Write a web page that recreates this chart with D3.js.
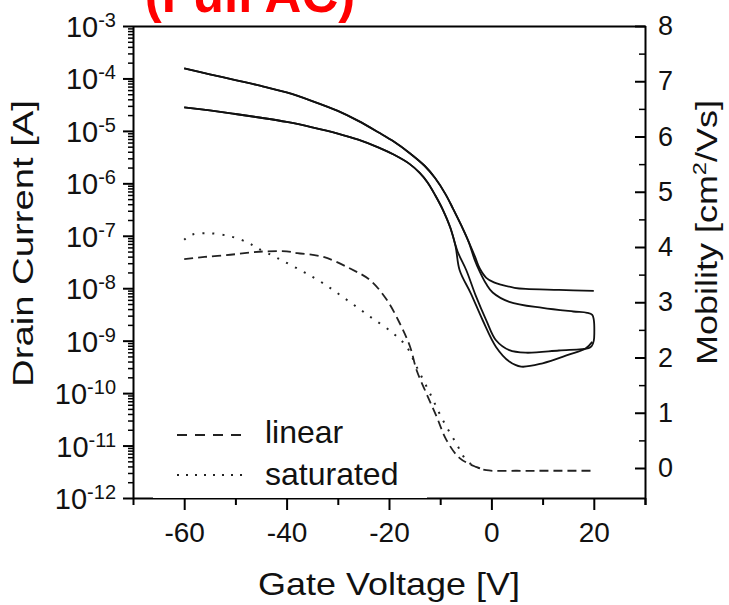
<!DOCTYPE html>
<html><head><meta charset="utf-8">
<script src="https://cdn.jsdelivr.net/npm/d3@7"></script>
<style>
body{margin:0;background:#fff}
svg{display:block}
text{font-family:Arial,"Liberation Sans",Helvetica,sans-serif;fill:#111}
</style>
</head><body>
<svg id="c" width="729" height="605"></svg>
<script>
// ---------- data ----------
const titleText = "(Full AC)";
const xTitle = "Gate Voltage [V]";
const yLeftTitle = "Drain Current [A]";
const legendLabels = ["linear", "saturated"];

// on-branch A (higher current)
const branchA_V = [-60, -55, -50, -45, -40, -35, -30, -26, -22, -19, -16, -13, -11, -9, -7.5, -6, -4.5];
const branchA_I = [1.55e-4, 1.20e-4, 9.3e-5, 7.2e-5, 5.4e-5, 3.7e-5, 2.4e-5, 1.55e-5, 9.3e-6, 6.2e-6, 3.8e-6, 2.14e-6, 1.26e-6, 6.3e-7, 3.3e-7, 1.66e-7, 7.9e-8];
// on-branch B (lower current)
const branchB_V = [-60, -55, -50, -45, -40, -35, -30, -26, -22, -19, -16, -14, -12.5, -11, -9.5, -8];
const branchB_I = [2.8e-5, 2.45e-5, 2.1e-5, 1.78e-5, 1.48e-5, 1.17e-5, 8.9e-6, 6.8e-6, 4.8e-6, 3.5e-6, 2.35e-6, 1.58e-6, 1.05e-6, 6.0e-7, 3.16e-7, 1.41e-7];
// off-state tails
const offTop_V = [-3.2, -2.3, -1, 0.5, 2.2, 4.5, 6.7, 13.2, 20];
const offTop_I = [4.0e-8, 2.4e-8, 1.58e-8, 1.29e-8, 1.15e-8, 1.02e-8, 9.7e-9, 9.3e-9, 8.9e-9];
const offLoop_V = [-3.3, -2.3, -1, 0.25, 3.5, 10, 16, 18.7, 19.7, 20.0, 20.1, 20.0, 19.6, 19, 13.2, 6.7, 3.5, 0.9, -1.0, -3.1, -4.9, -6.6];
const offLoop_I = [3.55e-8, 2.1e-8, 1.2e-8, 8.3e-9, 5.5e-9, 4.2e-9, 3.6e-9, 3.4e-9, 3.1e-9, 2.5e-9, 1.4e-9, 1.0e-9, 7.9e-10, 7.2e-10, 6.5e-10, 5.9e-10, 6.6e-10, 1.02e-9, 2.45e-9, 7.4e-9, 2.2e-8, 5.0e-8];
const offLow_V = [-7.0, -6.2, -4, -1.7, 0.9, 3.5, 5.8, 10, 15.1, 18.4, 19.7];
const offLow_I = [6.3e-8, 2.2e-8, 7.9e-9, 2.45e-9, 7.6e-10, 4.0e-10, 3.2e-10, 3.7e-10, 5.4e-10, 7.1e-10, 9.5e-10];

// mobility
const mobLin_V = [-60, -56, -51, -47, -44.4, -40, -37.9, -32.8, -27.6, -23.7, -20.4, -17.9, -15.9, -14.6, -12.7, -10.7, -8.8, -6.2, -3, -1, 5, 10, 15, 20];
const mobLin_M = [3.78, 3.82, 3.86, 3.90, 3.92, 3.92, 3.89, 3.82, 3.61, 3.40, 3.04, 2.62, 2.20, 1.77, 1.35, 0.93, 0.51, 0.18, 0.02, -0.04, -0.05, -0.05, -0.05, -0.05];
const mobSat_V = [-60, -58.6, -55.4, -50.9, -47.6, -45.7, -41.8, -37.3, -32.8, -28.2, -23.7, -19.2, -16.6, -14.6, -12.0, -9.5, -6.9, -4.9, -3.0, -1.0];
const mobSat_M = [4.13, 4.22, 4.25, 4.19, 4.08, 3.98, 3.80, 3.58, 3.34, 3.04, 2.74, 2.44, 2.20, 1.83, 1.35, 0.87, 0.45, 0.14, 0.02, -0.04];

// ticks
const leftExps = [-12, -11, -10, -9, -8, -7, -6, -5, -4, -3];
const xMajor = [-60, -40, -20, 0, 20];
const xMinor = [-70, -50, -30, -10, 10, 30];
const rMajor = [0, 1, 2, 3, 4, 5, 6, 7, 8];
const rMinor = [0.5, 1.5, 2.5, 3.5, 4.5, 5.5, 6.5, 7.5];

// ---------- scales ----------
const L = 133, R = 645, T = 26, B = 498;
const x = d3.scaleLinear().domain([-70, 30]).range([L, R]);
const yL = d3.scaleLog().domain([1e-12, 1e-3]).range([B, T]);
const yR = d3.scaleLinear().domain([-30 / 55.25, 8]).range([B, T]);

const svg = d3.select("#c");
svg.append("rect").attr("width", 729).attr("height", 605).attr("fill", "#fff");

// red title (cut off at the top, as in the source)
svg.append("text").attr("x", 250).attr("y", 12).attr("text-anchor", "middle")
  .attr("font-size", 51).attr("font-weight", "bold").style("fill", "#ff0000").text(titleText);

// ---------- curves ----------
const zip = (vs, is) => vs.map((v, i) => [v, is[i]]);
const A = zip(branchA_V, branchA_I);
const Bp = zip(branchB_V, branchB_I);
const curve1 = A.concat(zip(offTop_V, offTop_I));
const curve2 = A.concat(zip(offLoop_V, offLoop_I)).concat(Bp.slice().reverse());
const curve3 = Bp.concat(zip(offLow_V, offLow_I));

const lineI = d3.line().x(d => x(d[0])).y(d => yL(d[1])).curve(d3.curveCatmullRom.alpha(0.5));
const lineM = d3.line().x(d => x(d[0])).y(d => yR(d[1])).curve(d3.curveCatmullRom.alpha(0.5));

const plot = svg.append("g");
[curve1, curve2, curve3].forEach(c => {
  plot.append("path").attr("d", lineI(c)).attr("fill", "none").attr("stroke", "#111").attr("stroke-width", 1.8);
});
plot.append("path").attr("d", lineM(zip(mobLin_V, mobLin_M))).attr("fill", "none")
  .attr("stroke", "#222").attr("stroke-width", 1.8).attr("stroke-dasharray", "9,5");
plot.append("path").attr("d", lineM(zip(mobSat_V, mobSat_M))).attr("fill", "none")
  .attr("stroke", "#222").attr("stroke-width", 2).attr("stroke-dasharray", "2,8");

// ---------- axes ----------
function styleAxis(g, w) {
  g.select(".domain").attr("stroke", "#000").attr("stroke-width", 2);
  g.selectAll(".tick line").attr("stroke", "#000").attr("stroke-width", w);
}
// bottom
const gxMaj = svg.append("g").attr("transform", `translate(0,${B})`)
  .call(d3.axisBottom(x).tickValues(xMajor).tickSize(12).tickSizeOuter(0).tickFormat(d => String(d)));
styleAxis(gxMaj, 2);
gxMaj.selectAll(".tick text").attr("font-size", 28).attr("y", 44).attr("dy", 0).style("fill", "#111");
const gxMin = svg.append("g").attr("transform", `translate(0,${B})`)
  .call(d3.axisBottom(x).tickValues(xMinor).tickSize(7).tickSizeOuter(0).tickFormat(""));
gxMin.select(".domain").remove(); styleAxis(gxMin, 2);

// left
const gyMaj = svg.append("g").attr("transform", `translate(${L},0)`)
  .call(d3.axisLeft(yL).tickValues(leftExps.map(e => Math.pow(10, e))).tickSize(10).tickSizeOuter(0).tickFormat(""));
styleAxis(gyMaj, 2);
const leftMinor = [];
leftExps.slice(0, -1).forEach(e => { for (let k = 2; k <= 9; k++) leftMinor.push(k * Math.pow(10, e)); });
const gyMin = svg.append("g").attr("transform", `translate(${L},0)`)
  .call(d3.axisLeft(yL).tickValues(leftMinor).tickSize(5).tickSizeOuter(0).tickFormat(""));
gyMin.select(".domain").remove(); styleAxis(gyMin, 1.5);
// left labels with superscript
leftExps.forEach(e => {
  const yy = yL(Math.pow(10, e));
  const t = svg.append("text").attr("x", 116).attr("y", yy + 11).attr("text-anchor", "end");
  t.append("tspan").attr("font-size", 29).text("10");
  t.append("tspan").attr("font-size", 20).attr("dy", -10).text(String(e));
});

// right
const gr = svg.append("g").attr("transform", `translate(${R},0)`)
  .call(d3.axisRight(yR).tickValues(rMajor).tickSizeInner(-10).tickSizeOuter(0).tickPadding(13).tickFormat(d => String(d)));
styleAxis(gr, 2);
gr.select(".domain").attr("d", `M0.5,${T}V${B + 7}`);
gr.selectAll(".tick text").attr("font-size", 27).style("fill", "#111");
const grMin = svg.append("g").attr("transform", `translate(${R},0)`)
  .call(d3.axisRight(yR).tickValues(rMinor).tickSizeInner(-6).tickSizeOuter(0).tickFormat(""));
grMin.select(".domain").remove(); styleAxis(grMin, 1.5);

// top frame
svg.append("line").attr("x1", L).attr("x2", R + 1).attr("y1", T + 0.5).attr("y2", T + 0.5)
  .attr("stroke", "#000").attr("stroke-width", 2);

// ---------- titles ----------
function fitText(sel, target) {
  const w = sel.node().getComputedTextLength();
  sel.attr("transform", `scale(${target / w},1)`);
}
const xt = svg.append("text").attr("text-anchor", "middle").attr("font-size", 31).text(xTitle);
fitText(xt, 262);
xt.attr("transform", `translate(389,595) ` + xt.attr("transform"));

const gyt = svg.append("g").attr("transform", "translate(33,243.5) rotate(-90)");
const yt = gyt.append("text").attr("text-anchor", "middle").attr("font-size", 29).text(yLeftTitle);
fitText(yt, 287);

const grt = svg.append("g").attr("transform", "translate(717,232.5) rotate(-90)");
const rt = grt.append("text").attr("text-anchor", "middle").attr("font-size", 29);
rt.append("tspan").text("Mobility [cm");
rt.append("tspan").attr("font-size", 19).attr("dy", -11).text("2");
rt.append("tspan").attr("dy", 11).text("/Vs]");
fitText(rt, 265);

// ---------- legend ----------
svg.append("rect").attr("x", 153).attr("y", 412).attr("width", 274).attr("height", 86).attr("fill", "#fff");
svg.append("line").attr("x1", 177).attr("x2", 243).attr("y1", 435).attr("y2", 435)
  .attr("stroke", "#222").attr("stroke-width", 1.8).attr("stroke-dasharray", "10,8");
svg.append("line").attr("x1", 177).attr("x2", 247).attr("y1", 475).attr("y2", 475)
  .attr("stroke", "#222").attr("stroke-width", 2).attr("stroke-dasharray", "2,7");
svg.append("text").attr("x", 265).attr("y", 443).attr("font-size", 32).text(legendLabels[0]);
svg.append("text").attr("x", 265).attr("y", 485).attr("font-size", 32).text(legendLabels[1]);
</script>
</body></html>
